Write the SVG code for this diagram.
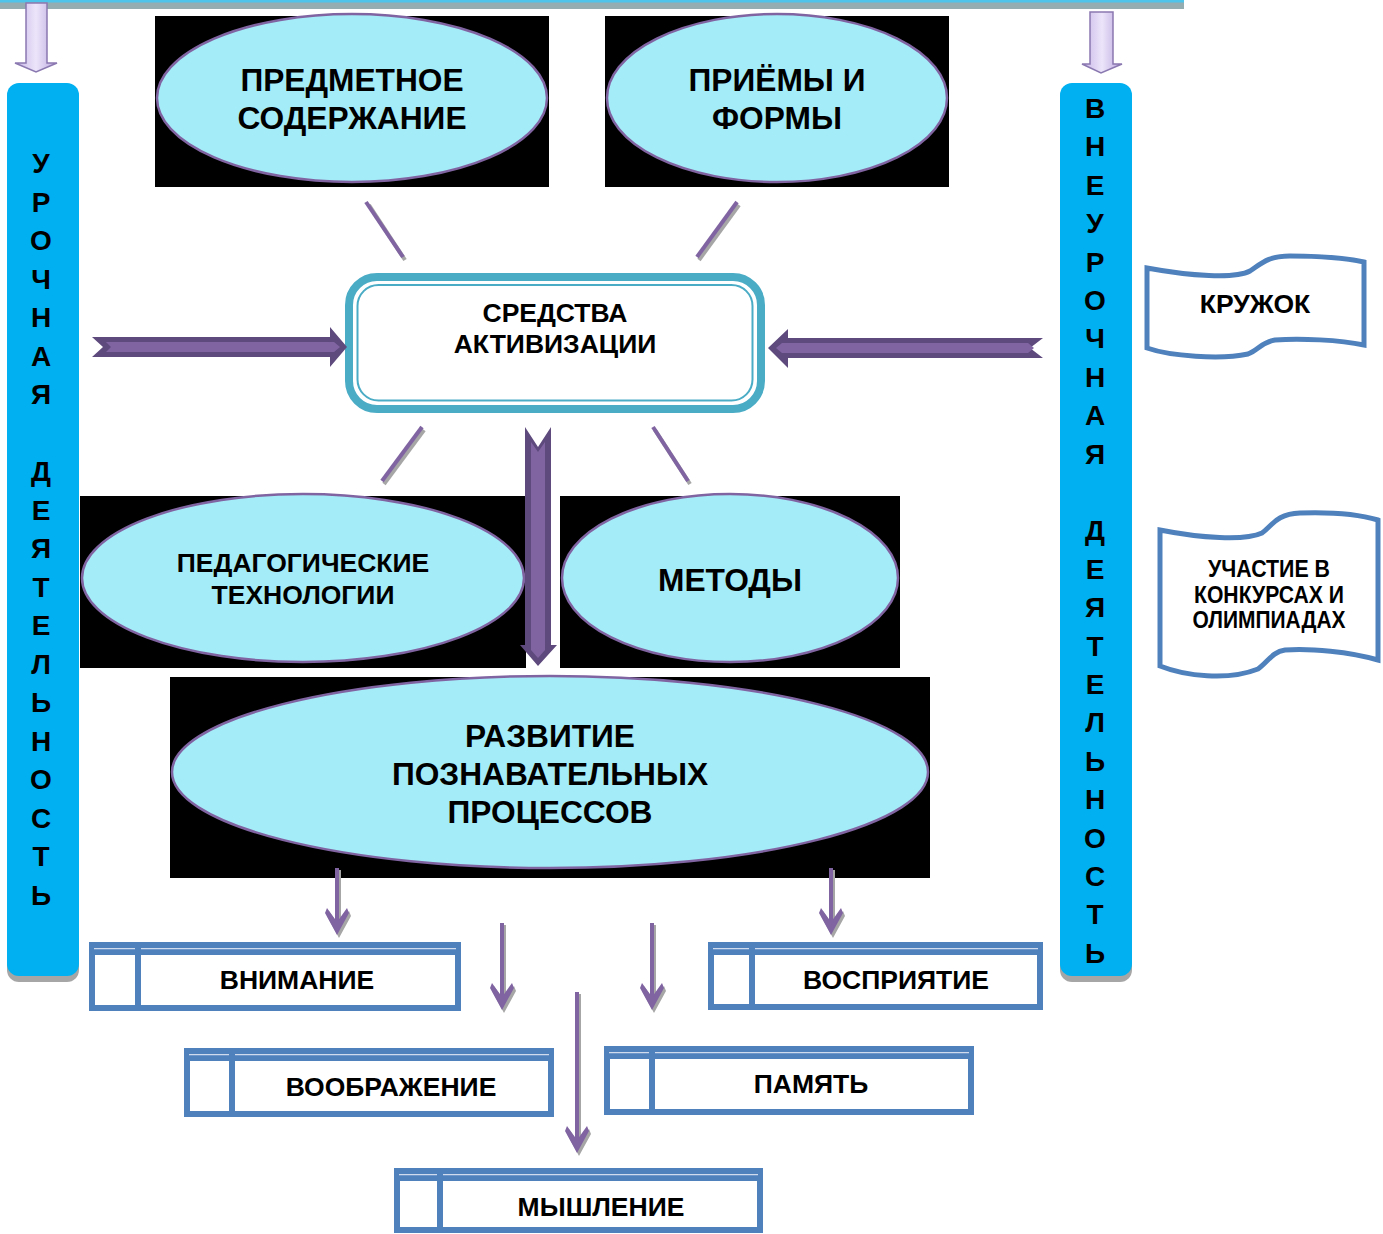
<svg xmlns="http://www.w3.org/2000/svg" width="1383" height="1234" viewBox="0 0 1383 1234">
<style>
text{font-family:"Liberation Sans",Arial,sans-serif;font-weight:bold;fill:#000;text-anchor:middle}
.blk{fill:#000}
.ell{fill:#a5ecf9;stroke:#8064a2;stroke-width:2.5}
.bar{fill:#00b0f0}
.shadow{fill:#a6a6a6}
.t30{font-size:31.7px}
.t26{font-size:26.5px}
.t25{font-size:26.5px}
.t28{font-size:28px}
.bx{fill:#fff;stroke:#4f81bd;stroke-width:6}
.bb{fill:#4f81bd}
.bl{stroke:#d0dcee;stroke-width:1.3}
.scroll{fill:#fff;stroke:#4f81bd;stroke-width:5}
.thin{stroke:#8064a2;stroke-width:4;fill:none}
.thinsh{stroke:#a6a6a6;stroke-width:4;fill:none}
.dk{fill:#5e4a7d}
.lt{fill:#8064a2}
.lav{fill:url(#lavg);stroke:#8a78b0;stroke-width:1.5}
</style>
<defs>
<linearGradient id="lavg" x1="0" y1="0" x2="1" y2="0">
<stop offset="0" stop-color="#c6b4e6"/>
<stop offset="0.5" stop-color="#ece5fa"/>
<stop offset="1" stop-color="#b9a5dd"/>
</linearGradient>
<path id="ah" d="M0,0 L-12,-22 L-10,-27 L0,-13 L10,-27 L12,-22 Z"/>
</defs>
<rect width="1383" height="1234" fill="#fff"/>

<g id="topbar">
<rect x="0" y="0" width="1184" height="9" fill="#93adb1"/>
<rect x="0" y="0" width="1184" height="2.5" fill="#4fc4ea"/>
</g>

<g id="left-bar">
<rect x="7" y="89" width="72" height="893" rx="12" class="shadow"/>
<rect x="7" y="83" width="72" height="893" rx="12" class="bar"/>
<text class="t28"><tspan x="41" y="173">У</tspan><tspan x="41" y="211.5">Р</tspan><tspan x="41" y="250">О</tspan><tspan x="41" y="288.5">Ч</tspan><tspan x="41" y="327">Н</tspan><tspan x="41" y="365.5">А</tspan><tspan x="41" y="404">Я</tspan><tspan x="41" y="481">Д</tspan><tspan x="41" y="519.5">Е</tspan><tspan x="41" y="558">Я</tspan><tspan x="41" y="596.5">Т</tspan><tspan x="41" y="635">Е</tspan><tspan x="41" y="673.5">Л</tspan><tspan x="41" y="712">Ь</tspan><tspan x="41" y="750.5">Н</tspan><tspan x="41" y="789">О</tspan><tspan x="41" y="827.5">С</tspan><tspan x="41" y="866">Т</tspan><tspan x="41" y="904.5">Ь</tspan></text>
</g>

<g id="right-bar">
<rect x="1060" y="89" width="72" height="893" rx="12" class="shadow"/>
<rect x="1060" y="83" width="72" height="893" rx="12" class="bar"/>
<text class="t28"><tspan x="1095" y="118">В</tspan><tspan x="1095" y="156.4">Н</tspan><tspan x="1095" y="194.8">Е</tspan><tspan x="1095" y="233.2">У</tspan><tspan x="1095" y="271.6">Р</tspan><tspan x="1095" y="310">О</tspan><tspan x="1095" y="348.4">Ч</tspan><tspan x="1095" y="386.8">Н</tspan><tspan x="1095" y="425.2">А</tspan><tspan x="1095" y="463.6">Я</tspan><tspan x="1095" y="540.4">Д</tspan><tspan x="1095" y="578.8">Е</tspan><tspan x="1095" y="617.2">Я</tspan><tspan x="1095" y="655.6">Т</tspan><tspan x="1095" y="694">Е</tspan><tspan x="1095" y="732.4">Л</tspan><tspan x="1095" y="770.8">Ь</tspan><tspan x="1095" y="809.2">Н</tspan><tspan x="1095" y="847.6">О</tspan><tspan x="1095" y="886">С</tspan><tspan x="1095" y="924.4">Т</tspan><tspan x="1095" y="962.8">Ь</tspan></text>
</g>

<g id="predmet">
<rect x="155" y="16" width="394" height="171" class="blk"/>
<ellipse cx="352" cy="98" rx="195" ry="84" class="ell"/>
<text class="t30" x="352" y="91">ПРЕДМЕТНОЕ</text>
<text class="t30" x="352" y="129">СОДЕРЖАНИЕ</text>
</g>

<g id="priemy">
<rect x="605" y="16" width="344" height="171" class="blk"/>
<ellipse cx="777" cy="98" rx="170" ry="84" class="ell"/>
<text class="t30" x="777" y="91">ПРИЁМЫ И</text>
<text class="t30" x="777" y="129">ФОРМЫ</text>
</g>

<g id="sredstva">
<rect x="349" y="277" width="412" height="132" rx="28" fill="#fff" stroke="#4bacc6" stroke-width="8"/>
<rect x="357.5" y="285" width="395" height="115.5" rx="21" fill="none" stroke="#4bacc6" stroke-width="2"/>
<text class="t25" x="555" y="322">СРЕДСТВА</text>
<text class="t25" x="555" y="353">АКТИВИЗАЦИИ</text>
</g>

<g id="pedtech">
<rect x="80" y="496" width="446" height="172" class="blk"/>
<ellipse cx="303" cy="578" rx="221" ry="84" class="ell"/>
<text class="t26" x="303" y="572">ПЕДАГОГИЧЕСКИЕ</text>
<text class="t26" x="303" y="604">ТЕХНОЛОГИИ</text>
</g>

<g id="metody">
<rect x="560" y="496" width="340" height="172" class="blk"/>
<ellipse cx="730" cy="578" rx="168" ry="84" class="ell"/>
<text class="t30" x="730" y="591">МЕТОДЫ</text>
</g>

<g id="razvitie">
<rect x="170" y="677" width="760" height="201" class="blk"/>
<ellipse cx="550" cy="772" rx="378" ry="96" class="ell"/>
<text class="t30" x="550" y="747">РАЗВИТИЕ</text>
<text class="t30" x="550" y="785">ПОЗНАВАТЕЛЬНЫХ</text>
<text class="t30" x="550" y="823">ПРОЦЕССОВ</text>
</g>

<g id="kruzhok">
<path class="scroll" d="M1147,268 C1190,276 1235,279 1250,271 C1262,263 1268,256 1290,256 C1320,256 1345,258 1364,262 L1364,345 C1340,340 1300,338 1275,340 C1262,342 1258,350 1248,354 C1220,360 1170,356 1147,348 Z"/>
<text class="t25" x="1255" y="313">КРУЖОК</text>
</g>

<g id="konkursy">
<path class="scroll" d="M1160,530 C1200,538 1245,541 1262,533 C1272,526 1276,514 1300,513 C1330,512 1358,514 1378,520 L1378,660 C1350,652 1310,648 1285,650 C1272,652 1268,662 1258,669 C1228,681 1185,676 1160,666 Z"/>
<text font-size="24" x="1269" y="577" textLength="122" lengthAdjust="spacingAndGlyphs">УЧАСТИЕ В</text>
<text font-size="24" x="1269" y="603" textLength="150" lengthAdjust="spacingAndGlyphs">КОНКУРСАХ И</text>
<text font-size="24" x="1269" y="628" textLength="153" lengthAdjust="spacingAndGlyphs">ОЛИМПИАДАХ</text>
</g>

<g id="vnimanie">
<rect x="92" y="945" width="366" height="63" class="bx"/>
<rect x="89" y="942" width="372" height="13" class="bb"/>
<line x1="94" y1="948.7" x2="456" y2="948.7" class="bl"/>
<rect x="135" y="942" width="6" height="69" class="bb"/>
<text class="t26" x="297" y="989">ВНИМАНИЕ</text>
</g>

<g id="vospriyatie">
<rect x="711" y="945" width="329" height="62" class="bx"/>
<rect x="708" y="942" width="335" height="13" class="bb"/>
<line x1="713" y1="948.7" x2="1038" y2="948.7" class="bl"/>
<rect x="749" y="942" width="6" height="68" class="bb"/>
<text class="t26" x="896" y="989">ВОСПРИЯТИЕ</text>
</g>

<g id="voobrazhenie">
<rect x="187" y="1051" width="364" height="63" class="bx"/>
<rect x="184" y="1048" width="370" height="13" class="bb"/>
<line x1="189" y1="1054.7" x2="549" y2="1054.7" class="bl"/>
<rect x="229" y="1048" width="6" height="69" class="bb"/>
<text class="t26" x="391" y="1096">ВООБРАЖЕНИЕ</text>
</g>

<g id="pamyat">
<rect x="607" y="1049" width="364" height="63" class="bx"/>
<rect x="604" y="1046" width="370" height="13" class="bb"/>
<line x1="609" y1="1052.7" x2="969" y2="1052.7" class="bl"/>
<rect x="649" y="1046" width="6" height="69" class="bb"/>
<text class="t26" x="811" y="1093">ПАМЯТЬ</text>
</g>

<g id="myshlenie">
<rect x="397" y="1171" width="363" height="59" class="bx"/>
<rect x="394" y="1168" width="369" height="13" class="bb"/>
<line x1="399" y1="1174.7" x2="758" y2="1174.7" class="bl"/>
<rect x="437" y="1168" width="6" height="65" class="bb"/>
<text class="t26" x="601" y="1216">МЫШЛЕНИЕ</text>
</g>

<g id="connectors">
<polygon class="lav" points="26,3 47,3 47,63 57,63 36,72 15,63 26,63"/>
<polygon class="lav" points="1090,12 1113,12 1113,64 1122,64 1101,73 1082,64 1090,64"/>

<line x1="369" y1="205" x2="405" y2="260" class="thinsh"/>
<line x1="366" y1="202" x2="403" y2="257" class="thin"/>
<line x1="739" y1="205" x2="699" y2="260" class="thinsh"/>
<line x1="737" y1="202" x2="697" y2="257" class="thin"/>
<line x1="424" y1="430" x2="384" y2="484" class="thinsh"/>
<line x1="422" y1="427" x2="382" y2="481" class="thin"/>
<line x1="655" y1="430" x2="690" y2="484" class="thinsh"/>
<line x1="653" y1="427" x2="688" y2="481" class="thin"/>

<polygon class="dk" points="92,337 330,337 330,327 347,347 330,367 330,357 92,357 103,347"/>
<polygon class="lt" points="106,342 334,342 340,347 334,352 106,352 111,347"/>
<polygon class="dk" points="1043,338 788,338 788,329 768,348 788,368 788,358 1043,358 1030,348"/>
<polygon class="lt" points="1028,343 782,343 776,348 782,353 1028,353 1034,348"/>
<polygon class="dk" points="525,427 538,447 551,427 551,645 557,645 538,666 520,645 525,645"/>
<polygon class="lt" points="531,442 538,452 545,442 545,650 538,658 531,650"/>

<g>
<line x1="339" y1="870" x2="339" y2="925" class="thinsh"/>
<use href="#ah" x="339" y="938" fill="#a6a6a6"/>
<line x1="337" y1="868" x2="337" y2="922" class="thin"/>
<use href="#ah" x="337" y="935" fill="#8064a2"/>

<line x1="833" y1="870" x2="833" y2="925" class="thinsh"/>
<use href="#ah" x="833" y="938" fill="#a6a6a6"/>
<line x1="831" y1="868" x2="831" y2="922" class="thin"/>
<use href="#ah" x="831" y="935" fill="#8064a2"/>

<line x1="504" y1="925" x2="504" y2="1000" class="thinsh"/>
<use href="#ah" x="504" y="1013" fill="#a6a6a6"/>
<line x1="502" y1="923" x2="502" y2="997" class="thin"/>
<use href="#ah" x="502" y="1010" fill="#8064a2"/>

<line x1="654" y1="925" x2="654" y2="1000" class="thinsh"/>
<use href="#ah" x="654" y="1013" fill="#a6a6a6"/>
<line x1="652" y1="923" x2="652" y2="997" class="thin"/>
<use href="#ah" x="652" y="1010" fill="#8064a2"/>

<line x1="579" y1="994" x2="579" y2="1143" class="thinsh"/>
<use href="#ah" x="579" y="1156" fill="#a6a6a6"/>
<line x1="577" y1="992" x2="577" y2="1140" class="thin"/>
<use href="#ah" x="577" y="1153" fill="#8064a2"/>
</g>
</g>
</svg>
